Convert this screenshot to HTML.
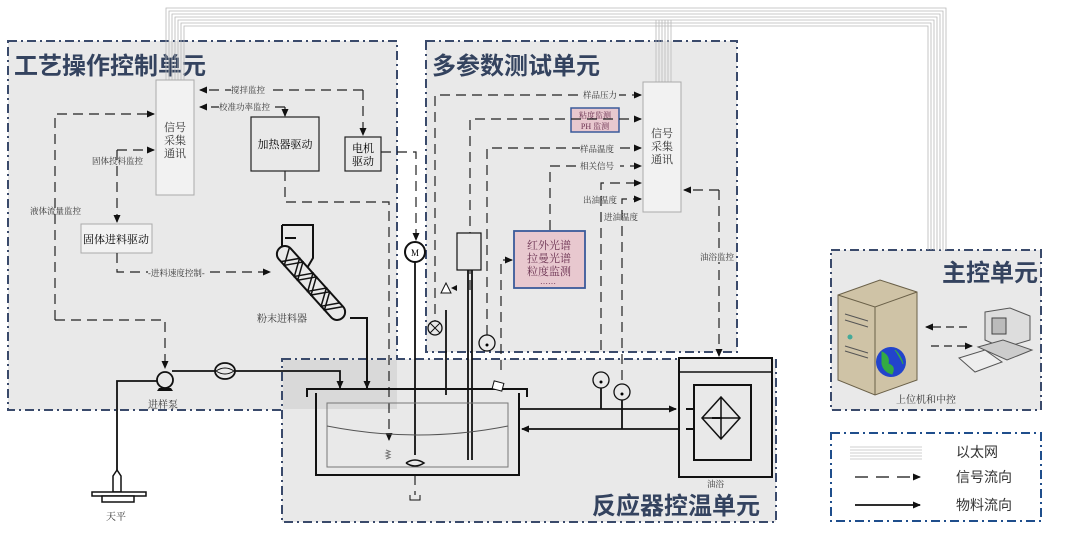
<!DOCTYPE html>
<html><head><meta charset="utf-8"><style>
body{margin:0;background:#fff;}
svg{display:block;font-family:"Liberation Serif","Noto Serif CJK SC",serif;}
.t{font-family:"Liberation Sans","Noto Sans CJK SC",sans-serif;font-weight:bold;fill:#34435f;}
</style></head><body>
<svg width="1080" height="533" viewBox="0 0 1080 533" xmlns="http://www.w3.org/2000/svg">
<defs>
<marker id="a" markerWidth="8" markerHeight="8" refX="7" refY="4" orient="auto" markerUnits="userSpaceOnUse"><path d="M0,0.5 L8,4 L0,7.5z" fill="#111"/></marker>
</defs>
<g stroke="#3a4a6b" stroke-width="2" stroke-dasharray="9,4,2,4">
<rect x="8" y="41" width="389" height="369" fill="#e9e9e9"/>
<rect x="426" y="41" width="311" height="311" fill="#e9e9e9"/>
<rect x="282" y="359" width="494" height="163" fill="#e9e9e9"/>
<rect x="831" y="250" width="210" height="160" fill="#e9e9e9"/>
</g>
<rect x="283" y="360" width="114" height="49" fill="#d9d9d9"/>
<rect x="831" y="433" width="210" height="88" fill="#fff" stroke="#1f4e8c" stroke-width="2" stroke-dasharray="9,4,2,4"/>
<text class="t" x="14" y="74" font-size="24">工艺操作控制单元</text>
<text class="t" x="432" y="74" font-size="24">多参数测试单元</text>
<text class="t" x="942" y="281" font-size="24">主控单元</text>
<text class="t" x="592" y="514" font-size="24">反应器控温单元</text>
<g fill="none" stroke="#b8b8b8" stroke-width="0.8">
<path d="M166,80 V8 H946 V250"/><path d="M169,80 V11 H943 V250"/><path d="M172,80 V14 H940 V250"/><path d="M175,80 V17 H937 V250"/><path d="M178,80 V20 H934 V250"/><path d="M181,80 V23 H931 V250"/><path d="M184,80 V26 H928 V250"/>
<path d="M656,82 V20"/><path d="M659,82 V20"/><path d="M662,82 V20"/><path d="M665,82 V20"/><path d="M668,82 V20"/><path d="M671,82 V20"/>
</g>
<rect x="156" y="80" width="38" height="115" fill="#f2f2f2" stroke="#aaa"/>
<text x="175" y="131" font-size="11" text-anchor="middle" fill="#333">信号</text>
<text x="175" y="144" font-size="11" text-anchor="middle" fill="#333">采集</text>
<text x="175" y="157" font-size="11" text-anchor="middle" fill="#333">通讯</text>
<rect x="643" y="82" width="38" height="130" fill="#f2f2f2" stroke="#aaa"/>
<text x="662" y="137" font-size="11" text-anchor="middle" fill="#333">信号</text>
<text x="662" y="150" font-size="11" text-anchor="middle" fill="#333">采集</text>
<text x="662" y="163" font-size="11" text-anchor="middle" fill="#333">通讯</text>
<rect x="251" y="117" width="68" height="54" fill="#e9e9e9" stroke="#222" stroke-width="1.2"/>
<text x="285" y="148" font-size="11" text-anchor="middle">加热器驱动</text>
<rect x="345" y="137" width="36" height="34" fill="#e9e9e9" stroke="#222" stroke-width="1.2"/>
<text x="363" y="152" font-size="11" text-anchor="middle">电机</text>
<text x="363" y="165" font-size="11" text-anchor="middle">驱动</text>
<rect x="81" y="224" width="71" height="29" fill="#f2f2f2" stroke="#aaa"/>
<text x="116" y="243" font-size="11" text-anchor="middle">固体进料驱动</text>
<rect x="571" y="108" width="48" height="24" fill="#e8c8cf" stroke="#3a5a9a" stroke-width="1.5"/>
<text x="595" y="118" font-size="8" text-anchor="middle" fill="#6a3050">粘度监测</text>
<text x="595" y="129" font-size="8" text-anchor="middle" fill="#6a3050">PH 监测</text>
<rect x="514" y="231" width="71" height="57" fill="#e8c8cf" stroke="#3a5a9a" stroke-width="1.8"/>
<text x="549" y="249" font-size="11" text-anchor="middle" fill="#6a3050">红外光谱</text>
<text x="549" y="262" font-size="11" text-anchor="middle" fill="#6a3050">拉曼光谱</text>
<text x="549" y="275" font-size="11" text-anchor="middle" fill="#6a3050">粒度监测</text>
<text x="540" y="284" font-size="8" fill="#6a3050">……</text>
<g fill="none" stroke="#222" stroke-width="1.2" stroke-dasharray="10,6">
<path d="M363,90 H200" marker-end="url(#a)"/><path d="M363,90 V135" marker-end="url(#a)"/>
<path d="M285,107 V116" marker-end="url(#a)"/><path d="M285,107 H200" marker-end="url(#a)"/>
<path d="M55,320 V114 H154" marker-end="url(#a)"/>
<path d="M117,150 H154" marker-end="url(#a)"/><path d="M117,150 V222" marker-end="url(#a)"/>
<path d="M117,253 V272 H270" marker-end="url(#a)"/>
<path d="M55,320 H165 V368" marker-end="url(#a)"/>
<path d="M285,171 V202 H389 V440" marker-end="url(#a)"/>
<path d="M381,152 H416 V240" marker-end="url(#a)"/>
<path d="M435,330 V95 H641" marker-end="url(#a)"/>
<path d="M470,290 V119 H641" marker-end="url(#a)"/>
<path d="M487,335 V148 H641" marker-end="url(#a)"/>
<path d="M550,230 V166 H641" marker-end="url(#a)"/>
<path d="M601,350 V183 H641" marker-end="url(#a)"/>
<path d="M622,380 V199 H641" marker-end="url(#a)"/>
<path d="M719,190 H684" marker-end="url(#a)"/><path d="M719,190 V356" marker-end="url(#a)"/>
<path d="M501,370 V260 H512" marker-end="url(#a)"/>
<path d="M415,475 V495"/>
</g>
<g font-size="8.5" fill="#333">
<rect x="231" y="85" width="40" height="10" fill="#e9e9e9"/><text x="231" y="93">搅拌监控</text>
<rect x="219" y="102" width="54" height="10" fill="#e9e9e9"/><text x="219" y="110">校准功率监控</text>
<text x="92" y="164">固体投料监控</text>
<text x="30" y="214">液体流量监控</text>
<rect x="148" y="268" width="58" height="10" fill="#e9e9e9"/><text x="148" y="276">-进料速度控制-</text>
<rect x="583" y="90" width="36" height="10" fill="#e9e9e9"/><text x="583" y="98">样品压力</text>
<rect x="580" y="144" width="40" height="10" fill="#e9e9e9"/><text x="580" y="152">样品温度</text>
<rect x="580" y="161" width="40" height="10" fill="#e9e9e9"/><text x="580" y="169">相关信号</text>
<text x="583" y="203">出油温度</text>
<text x="604" y="220">进油温度</text>
<rect x="700" y="252" width="36" height="10" fill="#e9e9e9"/><text x="700" y="260">油浴监控</text>
<text x="257" y="322" font-size="10">粉末进料器</text>
<text x="148" y="408" font-size="10">进样泵</text>
<text x="106" y="520" font-size="10">天平</text>
<text x="707" y="487">油浴</text>
<text x="896" y="403" font-size="10">上位机和中控</text>
</g>
<!-- hopper + screw -->
<g fill="none" stroke="#111" stroke-width="2">
<path d="M282,225 H313 V258 L300,280 M282,225 V258 L296,278"/>
<path d="M285,238 H296"/>
<g transform="rotate(48 311 283)">
<rect x="264" y="275" width="94" height="16" rx="8" fill="#e9e9e9"/>
<path d="M270,275 L280,291 L290,275 L300,291 L310,275 L320,291 L330,275 L340,291 L350,275" stroke-width="1.5"/>
<path d="M275,291 L285,275 L295,291 L305,275 L315,291 L325,275 L335,291 L345,275" stroke-width="1.5"/>
</g>
<path d="M350,318 H367 V388" marker-end="url(#a)"/>
</g>
<g fill="none" stroke="#111" stroke-width="1.8">
<path d="M117,470 V381 H160"/>
<path d="M172,371 H340 V388" marker-end="url(#a)"/>
<path d="M415,262 V455"/>
<path d="M468,270 V460 M472,270 V460"/>
<path d="M446,310 V395"/>
<path d="M519,409 H676" marker-end="url(#a)"/>
<path d="M679,429 H522" marker-end="url(#a)"/>
<path d="M601,385 V409 M622,395 V429"/>
</g>
<circle cx="165" cy="380" r="8" fill="#e9e9e9" stroke="#111" stroke-width="1.8"/>
<path d="M159,388 h12 l2,3 h-16z" fill="#111"/>
<ellipse cx="225" cy="371" rx="10" ry="8" fill="#e9e9e9" stroke="#111" stroke-width="1.8"/>
<path d="M216,371 q9,-6 18,0 M216,371 q9,6 18,0" stroke="#111" fill="none"/>
<path d="M117,470 l-4,6 v16 h8 v-16z" fill="#fff" stroke="#111" stroke-width="1.5"/>
<rect x="92" y="492" width="54" height="4" fill="#fff" stroke="#111" stroke-width="1.5"/>
<rect x="102" y="496" width="32" height="6" fill="#fff" stroke="#111" stroke-width="1.5"/>
<circle cx="415" cy="252" r="10" fill="#fff" stroke="#111" stroke-width="2"/>
<text x="415" y="256" font-size="9" text-anchor="middle">M</text>
<rect x="457" y="233" width="24" height="37" fill="#e9e9e9" stroke="#111" stroke-width="1.2"/>
<circle cx="435" cy="328" r="7" fill="#e9e9e9" stroke="#111" stroke-width="1.3"/>
<path d="M430,323 l10,10 M440,323 l-10,10" stroke="#111"/>
<path d="M446,283 l-5,10 h10z" fill="#fff" stroke="#111"/><path d="M451,288 l6,-3 v6z" fill="#111"/>
<circle cx="487" cy="343" r="8" fill="#e9e9e9" stroke="#111" stroke-width="1.3"/><circle cx="487" cy="345" r="1.5"/>
<circle cx="601" cy="380" r="8" fill="#e9e9e9" stroke="#111" stroke-width="1.3"/><circle cx="601" cy="382" r="1.5"/>
<circle cx="622" cy="392" r="8" fill="#e9e9e9" stroke="#111" stroke-width="1.3"/><circle cx="622" cy="394" r="1.5"/>
<g fill="none" stroke="#111" stroke-width="2">
<path d="M307,397 V389 H527 V397"/>
<path d="M316,393 V475 H519 V393"/>
</g>
<rect x="327" y="403" width="181" height="64" fill="none" stroke="#777"/>
<path d="M327,426 Q418,444 508,426" fill="none" stroke="#555"/>
<path d="M406,463 q9,-6 18,0 q-9,6 -18,0" fill="none" stroke="#111" stroke-width="1.5"/>
<path d="M386,450 l4,1.5 l-4,1.5 l4,1.5 l-4,1.5 l4,1.5 l-4,1.5" fill="none" stroke="#777"/>
<rect x="493" y="382" width="10" height="8" transform="rotate(15 498 386)" fill="#fff" stroke="#111"/>
<path d="M410,495 v5 h10 v-5" fill="none" stroke="#111"/>
<rect x="679" y="358" width="93" height="119" fill="#e9e9e9" stroke="#111" stroke-width="2"/>
<path d="M679,372 H772" stroke="#111" stroke-width="1.5"/>
<rect x="694" y="385" width="57" height="75" fill="none" stroke="#111" stroke-width="2"/>
<path d="M721,397 L740,418 L721,439 L702,418z M721,397 V439 M702,418 H740" fill="none" stroke="#111" stroke-width="1.5"/>
<path d="M686,409 h8 M686,429 h8 M712,418 h10" stroke="#111" stroke-width="2"/>
<path d="M838,295 L880,280 L917,292 V380 L875,395 L838,380z" fill="#cfc3a6" stroke="#6a6048"/>
<path d="M838,295 L875,307 L917,292 M875,307 V395" fill="none" stroke="#6a6048"/>
<path d="M845,314 L868,321 M845,320 L868,327 M845,346 L868,353 M845,351 L868,358" stroke="#555"/>
<circle cx="850" cy="337" r="2.5" fill="#4a9"/>
<circle cx="891" cy="362" r="15" fill="#2244cc"/><path d="M882,352 q8,4 6,12 q8,2 4,10 q-8,-2 -10,-10z M895,350 q6,6 8,14" fill="#3a4" stroke="#3a4"/>
<path d="M985,312 L1010,308 L1030,316 V340 L1003,348 L985,340z" fill="#ddd" stroke="#555"/>
<rect x="992" y="318" width="14" height="16" fill="#bbb" stroke="#444"/>
<path d="M978,347 L1003,340 L1032,350 L1007,360z" fill="#ccc" stroke="#555"/>
<path d="M959,358 L985,350 L1002,362 L975,372z" fill="#eee" stroke="#555"/>
<g stroke="#222" stroke-width="1.2" stroke-dasharray="8,5"><path d="M967,327 H926" marker-end="url(#a)"/><path d="M931,346 H972" marker-end="url(#a)"/></g>
<g stroke="#c0c0c0" stroke-width="0.8"><path d="M850,447 H922 M850,450 H922 M850,453 H922 M850,456 H922 M850,459 H922"/></g>
<path d="M855,477 H920" stroke="#111" stroke-width="1.3" stroke-dasharray="13,8" marker-end="url(#a)"/>
<path d="M855,505 H920" stroke="#111" stroke-width="1.8" marker-end="url(#a)"/>
<g font-family="Liberation Sans,Noto Sans CJK SC,sans-serif" font-size="14" fill="#333">
<text x="956" y="457">以太网</text><text x="956" y="482">信号流向</text><text x="956" y="510">物料流向</text>
</g>
</svg>
</body></html>
